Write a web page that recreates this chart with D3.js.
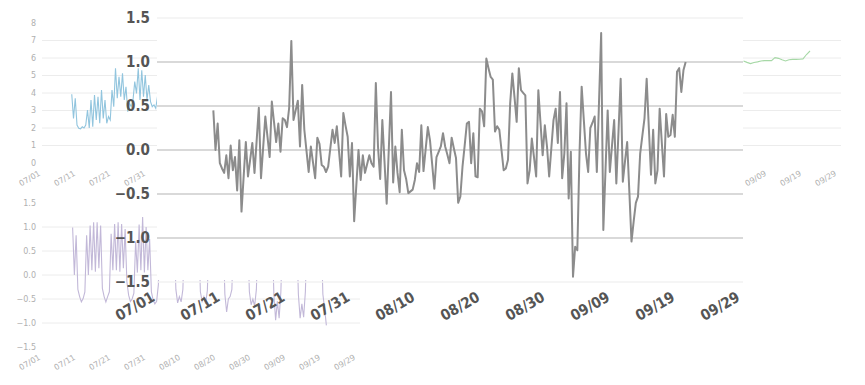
<!DOCTYPE html>
<html>
<head>
<meta charset="utf-8">
<script src="https://cdn.jsdelivr.net/npm/d3@7"></script>
<style>
  body { margin: 0; background: #fff; }
  svg { display: block; }
</style>
</head>
<body>
<svg width="865" height="385"></svg>
<script>
// tick labels shared by every panel
var dateTicks = ["07/01", "07/11", "07/21", "07/31", "08/10", "08/20", "08/30", "09/09", "09/19", "09/29"];
var mainTicks = [-1.5, -1.0, -0.5, 0.0, 0.5, 1.0, 1.5];
var countTicks = [0, 1, 2, 3, 4, 5, 6, 7, 8];
var smallTicks = [-1.5, -1.0, -0.5, 0.0, 0.5, 1.0, 1.5];

// main grey series, one value every 8 hours
var mainStart = "2023-07-09 16:00", mainStepHours = 8;
var mainValues = [
  0.45, 0.00, 0.30, -0.15, -0.21, -0.26, -0.06, -0.32, 0.05, -0.23,
  -0.08, -0.46, 0.11, -0.70, -0.30, 0.09, -0.30, -0.11, 0.08, -0.26,
  0.11, 0.48, -0.32, 0.03, 0.38, 0.15, -0.08, 0.55, 0.32, 0.09,
  0.30, -0.02, 0.36, 0.34, 0.26, 0.48, 1.24, 0.34, 0.45, 0.56,
  0.04, 0.74, 0.23, -0.01, -0.25, 0.04, -0.14, -0.32, 0.14, 0.07,
  -0.17, -0.19, -0.25, -0.19, 0.02, 0.23, 0.08, 0.27, -0.01, -0.30,
  0.42, 0.28, 0.15, -0.30, 0.08, -0.81, -0.40, 0.00, -0.34, -0.06,
  -0.26, -0.16, -0.06, -0.15, -0.19, 0.76, 0.04, -0.33, 0.34, -0.13,
  -0.61, 0.02, 0.66, -0.37, 0.04, -0.26, -0.48, 0.23, -0.23, -0.33,
  -0.49, -0.47, -0.45, -0.34, -0.15, -0.25, 0.28, -0.24, 0.01, 0.26,
  0.11, -0.16, -0.44, -0.08, -0.02, 0.04, 0.19, 0.04, -0.05, -0.15,
  0.14, 0.02, -0.09, -0.60, -0.53, -0.19, 0.05, 0.30, 0.32, -0.15,
  0.19, -0.30, -0.31, 0.47, 0.44, 0.27, 1.04, 0.93, 0.83, 0.80,
  0.21, 0.27, 0.23, 0.00, -0.23, -0.21, -0.11, 0.53, 0.87, 0.60,
  0.32, 0.93, 0.68, 0.65, 0.62, -0.38, -0.23, 0.13, -0.08, -0.30,
  0.68, 0.31, -0.06, 0.28, 0.04, -0.30, 0.02, 0.34, 0.47, 0.08,
  0.66, -0.32, -0.04, 0.53, -0.55, -0.02, -1.44, -1.10, -1.14, -0.04,
  0.72, 0.34, -0.04, -0.25, 0.25, 0.31, 0.38, -0.25, 0.54, 1.33,
  -0.91, -0.23, 0.45, -0.25, 0.05, 0.34, -0.38, 0.21, 0.81, -0.36,
  -0.13, 0.09, -0.47, -1.04, -0.81, -0.60, -0.53, -0.04, 0.16, 0.36,
  0.81, 0.25, -0.28, 0.23, -0.38, -0.23, 0.47, 0.08, -0.30, 0.41,
  0.15, 0.17, 0.40, 0.15, 0.89, 0.93, 0.66, 0.91, 1.00
];

// blue counts, one value every 12 hours
var blueStart = "2023-07-09 12:00", blueStepHours = 12;
var blueValues = [
  3.93, 2.55, 3.70, 2.17, 1.98, 1.95, 2.07, 2.00, 2.17, 3.03,
  2.00, 3.60, 2.07, 3.89, 2.46, 3.79, 2.27, 4.17, 2.55, 3.60,
  2.27, 2.65, 2.46, 4.17, 3.22, 5.41, 3.70, 4.93, 3.79, 5.12,
  3.60, 4.36, 2.93, 3.41, 3.22, 3.60, 4.65, 3.98, 5.41, 3.60,
  5.30, 3.79, 5.03, 3.60, 4.46, 3.51, 3.22, 3.32, 3.13, 3.79,
  5.60
];

// purple series, one value every 12 hours
var purpleStart = "2023-07-09 18:00", purpleStepHours = 12;
var purpleValues = [
  0.99, 0.00, 0.83, -0.30, -0.45, -0.56, -0.49, -0.35,
  0.83, 0.00, 1.03, 0.10, 1.10, 0.07, 1.10, 0.14, 1.03, -0.28, -0.45, -0.56, -0.45, -0.35,
  0.86, 0.10, 1.06, 0.10, 1.10, 0.07, 1.06, 0.14, 0.96, -0.14, -0.42, -0.55, -0.50, -0.38,
  0.70, 0.05, 1.05, 0.10, 1.21, 0.05, 1.00, 0.10, 0.75, -0.35, -0.52, -0.60, -0.55, -0.20,
  0.95, 0.05, 1.05, 0.08, 1.10, 0.06, 1.02, 0.10, 0.90, -0.30, -0.58, -0.45, -0.56, -0.30,
  0.92, 0.05, 1.08, 0.10, 1.12, 0.05, 1.00, 0.12, 0.95, -0.35, -0.55, -0.45, -0.60, -0.32,
  0.90, 0.05, 1.05, 0.10, 1.10, 0.05, 1.04, 0.10, 0.92, -0.40, -0.77, -0.50, -0.45, -0.30,
  0.95, 0.05, 1.06, 0.08, 1.10, 0.06, 1.00, 0.10, 0.90, -0.35, -0.62, -0.50, -0.65, -0.30,
  0.90, 0.05, 1.05, 0.10, 1.10, 0.05, 1.00, 0.10, 0.90, -0.40, -0.94, -0.55, -0.90, -0.35,
  0.92, 0.05, 1.05, 0.10, 1.08, 0.05, 1.00, 0.10, 0.92, -0.40, -0.90, -0.60, -0.88, -0.35,
  0.95, 0.05, 1.05, 0.10, 1.10, 0.06, 1.00, 0.10, 0.90, -0.40, -0.70, -1.05
];

// green counts, one value per day
var greenStart = "2023-09-02 00:00", greenStepHours = 24;
var greenValues = [
  5.83, 5.75, 5.68, 5.74, 5.78, 5.83, 5.85, 5.85, 5.85, 6.02,
  5.98, 5.90, 5.83, 5.90, 5.92, 5.92, 5.93, 5.95, 6.20, 6.40
];

var parseTime = d3.timeParse("%Y-%m-%d %H:%M");
var parseTick = d3.timeParse("%Y %m/%d");
var tickDates = dateTicks.map(function(s) { return parseTick("2023 " + s); });

function toSeries(start, step, values) {
  var t0 = parseTime(start);
  return values.map(function(v, i) { return { t: d3.timeHour.offset(t0, i * step), v: v }; });
}

var svg = d3.select("svg");

// small panel: light grid, tiny grey labels, thin coloured line
function smallPanel(left, top, bottom, yTicks, fmt, series, colour) {
  var x = d3.scaleTime().domain([tickDates[0], tickDates[tickDates.length - 1]]).range([left, left + 315]);
  var y = d3.scaleLinear().domain([yTicks[0], yTicks[yTicks.length - 1]]).range([bottom, top]);
  var g = svg.append("g");

  g.selectAll(".grid").data(yTicks.slice(1, -1)).enter().append("line")
    .attr("x1", left).attr("x2", left + 318)
    .attr("y1", function(d) { return y(d); }).attr("y2", function(d) { return y(d); })
    .attr("stroke", "#ececec").attr("stroke-width", 1);

  g.selectAll(".yl").data(yTicks).enter().append("text")
    .attr("x", left - 6).attr("y", function(d) { return y(d); })
    .attr("dy", "0.35em").attr("text-anchor", "end")
    .style("font", "8px 'DejaVu Sans'").attr("fill", "#b0b0b0")
    .text(fmt);

  g.selectAll(".xl").data(tickDates).enter().append("text")
    .attr("transform", function(d) { return "translate(" + (x(d) - 1) + "," + (bottom + 12) + ") rotate(-30)"; })
    .attr("text-anchor", "end")
    .style("font", "8px 'DejaVu Sans'").attr("fill", "#b0b0b0")
    .text(function(d, i) { return dateTicks[i]; });

  var line = d3.line().x(function(d) { return x(d.t); }).y(function(d) { return y(d.v); });
  g.append("path").datum(series)
    .attr("d", line).attr("fill", "none")
    .attr("stroke", colour).attr("stroke-width", 1.1);
}

smallPanel(42, 23, 163, countTicks, d3.format("d"), toSeries(blueStart, blueStepHours, blueValues), "#92c5de");
smallPanel(42, 203, 347, smallTicks, d3.format(".1f"), toSeries(purpleStart, purpleStepHours, purpleValues), "#c2b8d8");
smallPanel(523, 23, 163, countTicks, d3.format("d"), toSeries(greenStart, greenStepHours, greenValues), "#a6d8a6");

// main panel drawn on top with a white plot area
var mx = d3.scaleTime().domain([tickDates[0], tickDates[tickDates.length - 1]]).range([157, 742]);
var my = d3.scaleLinear().domain([-1.5, 1.5]).range([282, 18]);
var main = svg.append("g");

main.append("rect").attr("x", 157).attr("y", 0).attr("width", 586).attr("height", 280).attr("fill", "#fff");

main.selectAll(".grid").data(mainTicks).enter().append("line")
  .attr("x1", 157).attr("x2", 743)
  .attr("y1", function(d) { return my(d); }).attr("y2", function(d) { return my(d); })
  .attr("stroke", function(d) { return Math.abs(d) > 1.2 ? "#f2f2f2" : "#cccccc"; })
  .attr("stroke-width", 1.3);

main.selectAll(".yl").data(mainTicks).enter().append("text")
  .attr("x", 150).attr("y", function(d) { return my(d); })
  .attr("dy", "0.36em").attr("text-anchor", "end")
  .style("font", "bold 15px 'DejaVu Sans Condensed', 'DejaVu Sans'").attr("fill", "#555")
  .text(function(d) { return d3.format(".1f")(d).replace("-", "\u2212"); });

main.selectAll(".xl").data(tickDates).enter().append("text")
  .attr("transform", function(d) { return "translate(" + (mx(d) - 1) + "," + 300 + ") rotate(-30)"; })
  .attr("text-anchor", "end")
  .style("font", "bold 15px 'DejaVu Sans Condensed', 'DejaVu Sans'").attr("fill", "#555")
  .text(function(d, i) { return dateTicks[i]; });

var mainLine = d3.line().x(function(d) { return mx(d.t); }).y(function(d) { return my(d.v); });
main.append("path").datum(toSeries(mainStart, mainStepHours, mainValues))
  .attr("d", mainLine).attr("fill", "none")
  .attr("stroke", "#8c8c8c").attr("stroke-width", 2)
  .attr("stroke-linejoin", "round");
</script>
</body>
</html>
